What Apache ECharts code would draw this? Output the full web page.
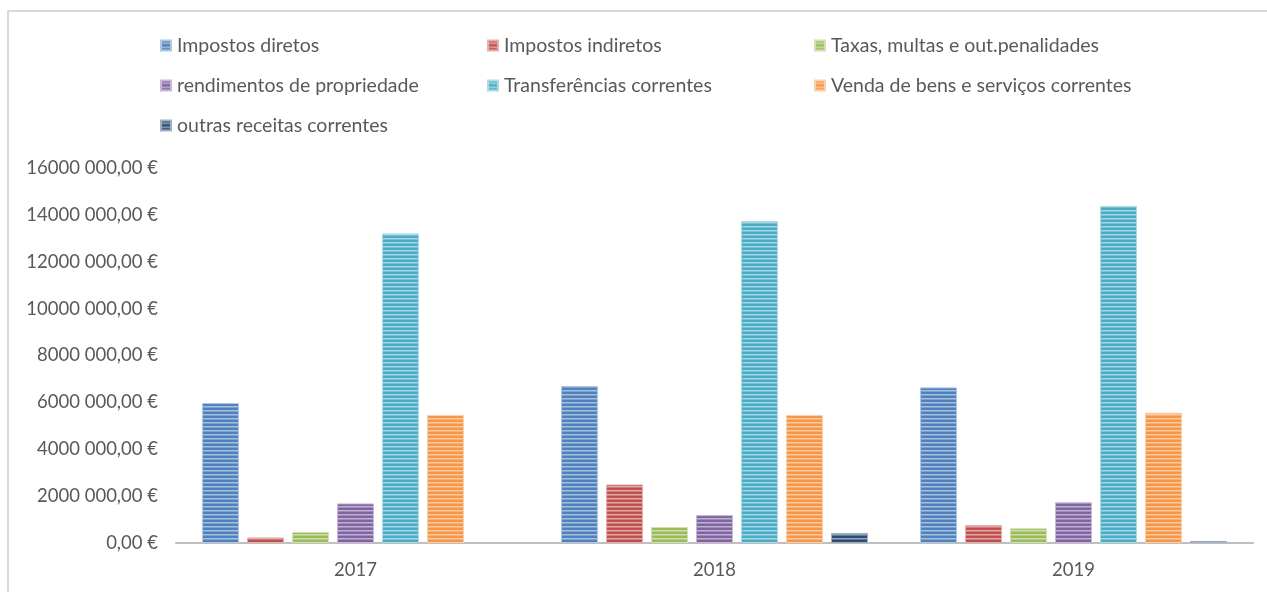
<!DOCTYPE html>
<html lang="pt">

<head>
    <meta charset="UTF-8">
    <title>Receitas correntes</title>
    <script src="https://cdn.jsdelivr.net/npm/echarts@6/dist/echarts.min.js"></script>
    <style>
        html, body { margin: 0; padding: 0; background: #fff; }
        #main { width: 1267px; height: 592px; }
    </style>
</head>

<body>
    <div id="main"></div>
    <script>
        // dados
        var anos = ['2017', '2018', '2019'];
        var series_nomes = [
            'Impostos diretos',
            'Impostos indiretos',
            'Taxas, multas e out.penalidades',
            'rendimentos de propriedade',
            'Transferências correntes',
            'Venda de bens e serviços correntes',
            'outras receitas correntes'
        ];
        var impostosDiretos = [5970000, 6700000, 6640000];
        var impostosIndiretos = [240000, 2500000, 770000];
        var taxasMultas = [470000, 680000, 630000];
        var rendimentosPropriedade = [1690000, 1190000, 1740000];
        var transferenciasCorrentes = [13210000, 13740000, 14380000];
        var vendaBensServicos = [5460000, 5460000, 5560000];
        var outrasReceitas = [null, 430000, 90000];
        var yTicks = [0, 2000000, 4000000, 6000000, 8000000, 10000000, 12000000, 14000000, 16000000];

        var valores = [impostosDiretos, impostosIndiretos, taxasMultas, rendimentosPropriedade,
            transferenciasCorrentes, vendaBensServicos, outrasReceitas];
        var cores = ['#4F81BD', '#C0504D', '#9BBB59', '#8064A2', '#4BACC6', '#F79646', '#2C4D75'];

        // padrão de riscas horizontais (estilo Excel)
        function clarear(hex, f) {
            var r = parseInt(hex.substr(1, 2), 16), g = parseInt(hex.substr(3, 2), 16), b = parseInt(hex.substr(5, 2), 16);
            r = Math.round(r + (255 - r) * f); g = Math.round(g + (255 - g) * f); b = Math.round(b + (255 - b) * f);
            return 'rgb(' + r + ',' + g + ',' + b + ')';
        }
        function riscas(hex) {
            var c = document.createElement('canvas');
            c.width = 4; c.height = 4;
            var ctx = c.getContext('2d');
            ctx.fillStyle = hex;
            ctx.fillRect(0, 0, 4, 4);
            ctx.fillStyle = clarear(hex, 0.5);
            ctx.fillRect(0, 2, 4, 1);
            ctx.fillStyle = clarear(hex, 0.25);
            ctx.fillRect(0, 3, 4, 1);
            return { image: c, repeat: 'repeat' };
        }

        var fonte = 'Lato, "Open Sans", sans-serif';
        var cinza = '#595959';

        var series = [];
        for (var i = 0; i < series_nomes.length; i++) {
            series.push({
                name: series_nomes[i],
                type: 'bar',
                data: valores[i],
                barGap: '21.6%',
                barCategoryGap: '14.5%',
                itemStyle: {
                    color: riscas(cores[i]),
                    borderColor: clarear(cores[i], 0.55),
                    borderWidth: 1
                }
            });
        }

        var myChart = echarts.init(document.getElementById('main'));
        var option = {
            animation: false,
            color: cores,
            graphic: [
                { type: 'line', shape: { x1: 8, y1: 11, x2: 1267, y2: 11 }, style: { stroke: '#D9D9D9', lineWidth: 2 } },
                { type: 'line', shape: { x1: 8, y1: 10, x2: 8, y2: 592 }, style: { stroke: '#D9D9D9', lineWidth: 2 } }
            ],
            legend: {
                left: 155,
                top: 27,
                width: 1050,
                itemWidth: 10,
                itemHeight: 10,
                itemGap: 13,
                icon: 'rect',
                textStyle: {
                    color: cinza,
                    fontFamily: fonte,
                    fontSize: 19.5,
                    width: 297,
                    lineHeight: 27,
                    padding: [0, 0, 0, 1]
                },
                data: series_nomes
            },
            grid: {
                left: 176,
                right: 14,
                top: 168,
                bottom: 49,
                containLabel: false
            },
            xAxis: {
                type: 'category',
                data: anos,
                axisLine: { lineStyle: { color: '#BFBFBF', width: 2 } },
                axisTick: { show: false },
                axisLabel: { color: cinza, fontFamily: fonte, fontSize: 18.5, margin: 18 }
            },
            yAxis: {
                type: 'value',
                min: yTicks[0],
                max: yTicks[yTicks.length - 1],
                interval: yTicks[1] - yTicks[0],
                axisLine: { show: false },
                axisTick: { show: false },
                splitLine: { show: false },
                axisLabel: {
                    color: cinza,
                    fontFamily: fonte,
                    fontSize: 18.5,
                    margin: 18,
                    formatter: function (v) {
                        if (v === 0) return '0,00 €';
                        return (v / 1000) + ' 000,00 €';
                    }
                }
            },
            series: series
        };
        myChart.setOption(option);
    </script>
</body>

</html>
